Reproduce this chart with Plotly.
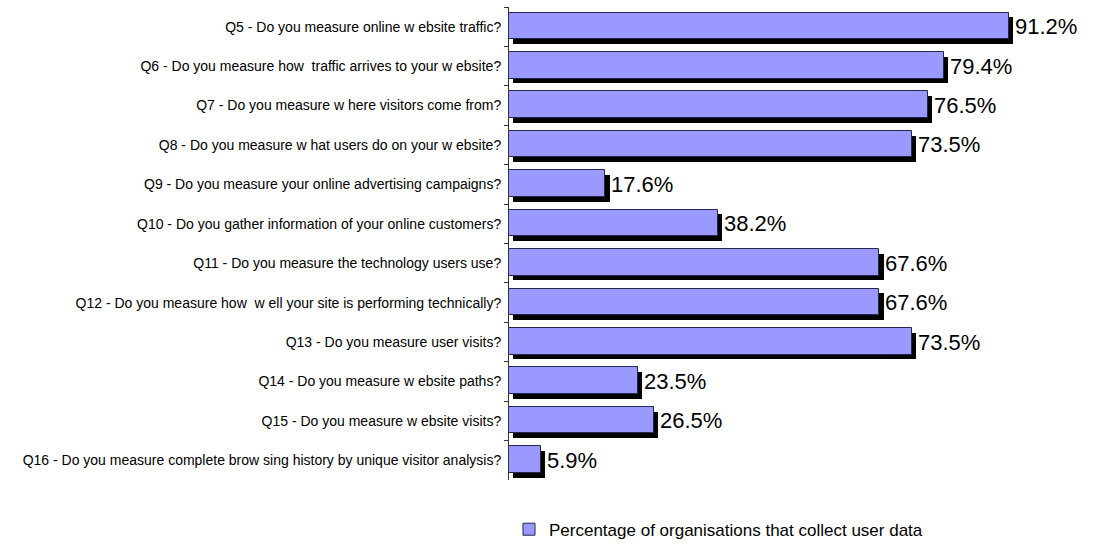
import plotly.graph_objects as go

# Survey questions (top to bottom) and share of organisations answering yes
questions = [
    "Q5 - Do you measure online w ebsite traffic?",
    "Q6 - Do you measure how  traffic arrives to your w ebsite?",
    "Q7 - Do you measure w here visitors come from?",
    "Q8 - Do you measure w hat users do on your w ebsite?",
    "Q9 - Do you measure your online advertising campaigns?",
    "Q10 - Do you gather information of your online customers?",
    "Q11 - Do you measure the technology users use?",
    "Q12 - Do you measure how  w ell your site is performing technically?",
    "Q13 - Do you measure user visits?",
    "Q14 - Do you measure w ebsite paths?",
    "Q15 - Do you measure w ebsite visits?",
    "Q16 - Do you measure complete brow sing history by unique visitor analysis?",
]
percentages = [91.2, 79.4, 76.5, 73.5, 17.6, 38.2, 67.6, 67.6, 73.5, 23.5, 26.5, 5.9]
series_name = "Percentage of organisations that collect user data"

FONT = "Liberation Sans, Arial, sans-serif"
BAR_WIDTH = 0.675
SHADOW_DX = 0.75   # horizontal shadow shift, in axis units
SHADOW_DY = 0.1    # vertical shadow shift, in category units

fig = go.Figure()

# drop shadow behind each bar
fig.add_trace(go.Bar(
    y=questions,
    x=percentages,
    base=[SHADOW_DX] * len(percentages),
    orientation="h",
    width=BAR_WIDTH,
    offset=-BAR_WIDTH / 2 + SHADOW_DY,
    marker=dict(color="#000000", line=dict(width=0)),
    showlegend=False,
    hoverinfo="skip",
))

# main bars
fig.add_trace(go.Bar(
    y=questions,
    x=percentages,
    orientation="h",
    width=BAR_WIDTH,
    offset=-BAR_WIDTH / 2 - 0.02,
    name=series_name,
    marker=dict(color="#9999FF", line=dict(color="#26264d", width=1)),
))

# value labels to the right of each bar
for q, v in zip(questions, percentages):
    fig.add_annotation(
        x=v, y=q, text=f"{v:.1f}%", showarrow=False,
        xanchor="left", yanchor="middle", xshift=4, yshift=0,
        font=dict(family=FONT, size=22, color="#000000"),
    )

fig.update_layout(
    width=1094,
    height=555,
    margin=dict(l=509, r=37, t=7, b=63),
    paper_bgcolor="white",
    plot_bgcolor="white",
    barmode="overlay",
    bargap=0,
    font=dict(family=FONT, color="#000000"),
    xaxis=dict(range=[0, 100], visible=False, fixedrange=True),
    yaxis=dict(
        autorange="reversed",
        showline=True,
        linecolor="#333333",
        linewidth=1,
        ticks="outside",
        tickson="boundaries",
        ticklen=4,
        tickcolor="#333333",
        ticklabelstandoff=4,
        tickfont=dict(family=FONT, size=14, color="#000000"),
        showgrid=False,
        zeroline=False,
    ),
    legend=dict(
        orientation="h",
        x=0.0,
        xanchor="left",
        y=-0.105,
        yanchor="middle",
        font=dict(family=FONT, size=17, color="#000000"),
        itemwidth=30,
        bgcolor="rgba(0,0,0,0)",
    ),
)

fig.write_html("out.html")
